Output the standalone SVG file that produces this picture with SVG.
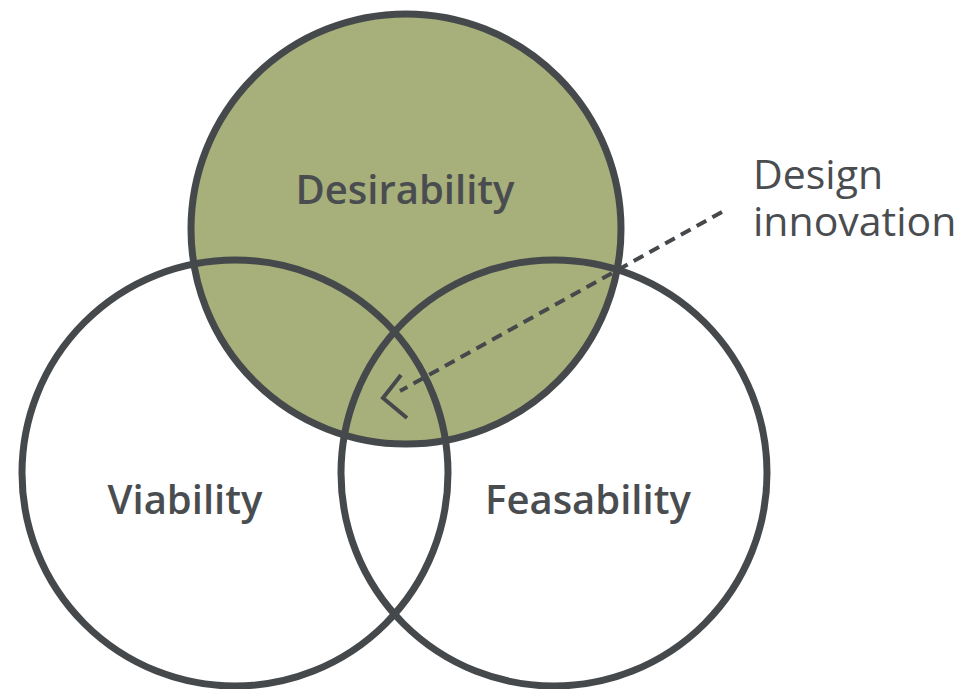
<svg xmlns="http://www.w3.org/2000/svg" width="967" height="689" viewBox="0 0 967 689">
<style>
.ring{fill:none;stroke:#46494c;stroke-width:7}
.lbl{font-family:"Open Sans","Liberation Sans",sans-serif;font-size:40px;font-weight:600;fill:#4a4d50;text-anchor:middle}
.note{font-family:"Open Sans","Liberation Sans",sans-serif;font-size:41px;font-weight:500;fill:#4a4d50}
</style>
<rect width="967" height="689" fill="#ffffff"/>
<circle cx="406" cy="229" r="215" fill="#a7af7a"/>
<g id="desirability"><circle class="ring" cx="406" cy="229" r="215"/><text class="lbl" x="405" y="204">Desirability</text></g>
<g id="viability"><circle class="ring" cx="235" cy="473" r="213"/><text class="lbl" x="185" y="514">Viability</text></g>
<g id="feasability"><circle class="ring" cx="554" cy="473" r="213"/><text class="lbl" x="588" y="514">Feasability</text></g>
<g id="design-innovation"><text class="note" x="753" y="189">Design</text><text class="note" x="753" y="236">innovation</text></g>
<g id="connectors">
<line x1="722" y1="212" x2="400" y2="391" stroke="#46494c" stroke-width="4" stroke-dasharray="11,7"/>
<polyline points="401,375 383,398 407,418" fill="none" stroke="#46494c" stroke-width="4"/>
</g>
</svg>
